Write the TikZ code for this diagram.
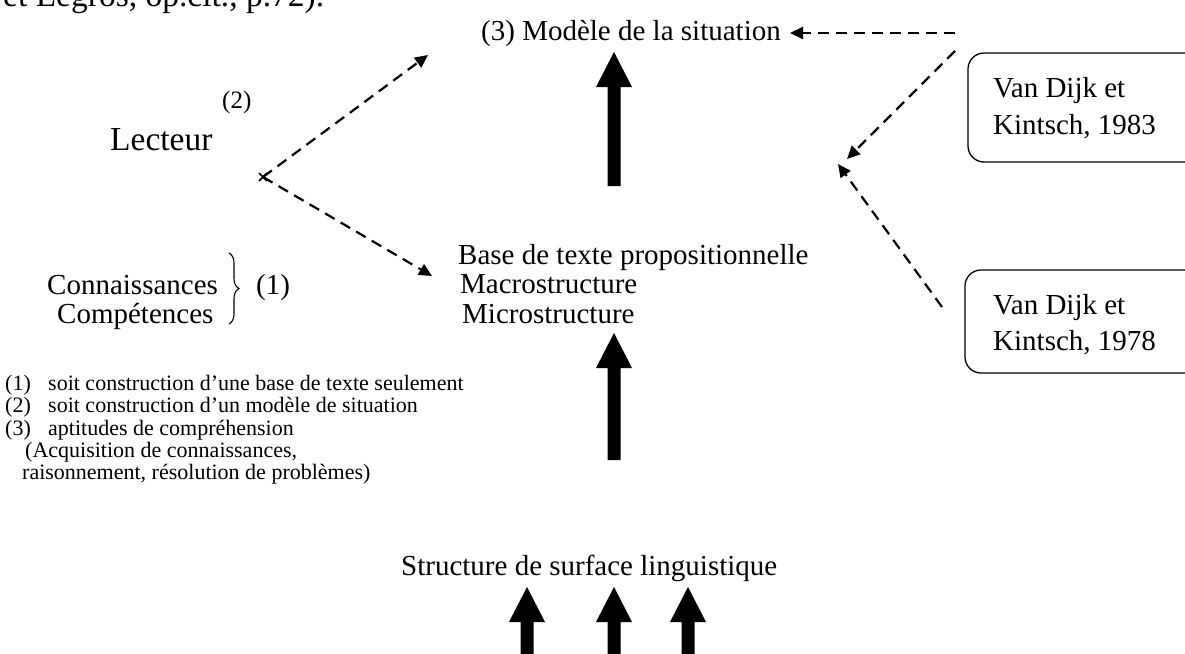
\documentclass[tikz,border=0pt]{standalone}
\usepackage{fontspec}
\setmainfont{Liberation Serif}
\usetikzlibrary{arrows.meta,decorations.pathreplacing,calc}
\tikzset{
  txt/.style={inner sep=0pt, anchor=base west, font=\fontsize{29}{34}\selectfont},
  bigtxt/.style={inner sep=0pt, anchor=base west, font=\fontsize{33.5}{40}\selectfont},
  smalltxt/.style={inner sep=0pt, anchor=base west, font=\fontsize{22}{26}\selectfont},
  dasharrow/.style={line width=2.2pt, dash pattern=on 11pt off 7pt, -{Triangle[length=13pt,width=12pt]}},
  refbox/.style={line width=1.3pt, rounded corners=16pt}
}
\newcommand{\upshaft}[3]{% x, tip y, bottom y
  \fill (#1-6.5,#3) -- (#1-6.5,#2+35) -- (#1-18,#2+35) -- (#1,#2) -- (#1+18,#2+35) -- (#1+6.5,#2+35) -- (#1+6.5,#3) -- cycle;}
\begin{document}
\begin{tikzpicture}[x=1pt,y=-1pt]
\useasboundingbox (0,0) rectangle (1185,653);
% cropped text at top
\node[bigtxt] (top) at (3,6) {et Legros, op.cit., p.72).};
% main texts
\node[txt] (sit) at (481,40) {(3) Modèle de la situation};
\node[bigtxt] (lect) at (110,150) {Lecteur};
\node[smalltxt, font=\fontsize{25}{30}\selectfont] (two) at (222,108) {(2)};
\node[txt] (base) at (458,264) {Base de texte propositionnelle};
\node[txt] (macro) at (460,293) {Macrostructure};
\node[txt] (micro) at (462,323) {Microstructure};
\node[txt] (conn) at (47,294) {Connaissances};
\node[txt] (comp) at (57,323) {Compétences};
\node[txt] (one) at (256,294) {(1)};
\node[txt] (surf) at (401,575) {Structure de surface linguistique};
% brace
\draw[line width=1.1pt, decoration={brace, amplitude=10pt}, decorate] (229,253) -- (229,324);
% legend
\node[smalltxt] (l1n) at (5,390) {(1)};
\node[smalltxt] (l1) at (48,390) {soit construction d’une base de texte seulement};
\node[smalltxt] (l2n) at (5,412) {(2)};
\node[smalltxt] (l2) at (48,412) {soit construction d’un modèle de situation};
\node[smalltxt] (l3n) at (5,435) {(3)};
\node[smalltxt] (l3) at (48,435) {aptitudes de compréhension};
\node[smalltxt] (l4) at (25,457) {(Acquisition de connaissances,};
\node[smalltxt] (l5) at (22,479) {raisonnement, résolution de problèmes)};
% boxes
\draw[refbox] (968,53) rectangle (1200,162);
\draw[refbox] (965,270) rectangle (1200,373);
\node[txt] (b1a) at (993,97) {Van Dijk et};
\node[txt] (b1b) at (993,134) {Kintsch, 1983};
\node[txt] (b2a) at (993,314) {Van Dijk et};
\node[txt] (b2b) at (993,350) {Kintsch, 1978};
% coordinates for dashed connectors
\coordinate (x) at (263,177);
\coordinate (xtop) at (428,55);
\coordinate (xbot) at (432,276);
\coordinate (r1) at (955,33);
\coordinate (r1tip) at (790,33);
\coordinate (r2) at (955,51);
\coordinate (r2tip) at (847,159);
\coordinate (r3) at (942,307);
\coordinate (r3tip) at (838,164);
\draw[dasharrow] (x) -- (xtop);
\draw[dasharrow] (x) -- (xbot);
\draw[dasharrow] (r1) -- (r1tip);
\draw[dasharrow] (r2) -- (r2tip);
\draw[dasharrow] (r3) -- (r3tip);
\draw[line width=1.5pt] ($(x)+(-4,-4)$) -- ($(x)+(4,4)$) ($(x)+(-4,4)$) -- ($(x)+(4,-4)$);
% thick arrows
\upshaft{614}{52}{186}
\upshaft{614}{333}{460}
\upshaft{527}{587}{660}
\upshaft{614}{587}{660}
\upshaft{688}{587}{660}
\end{tikzpicture}
\end{document}
